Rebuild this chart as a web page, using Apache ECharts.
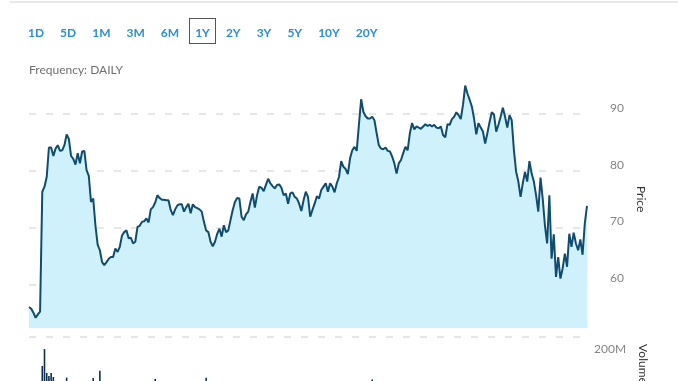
<!DOCTYPE html>
<html><head><meta charset="utf-8">
<script src="https://cdn.jsdelivr.net/npm/echarts@6/dist/echarts.min.js"></script>
<style>
html,body{margin:0;padding:0;background:#fff;width:678px;height:381px;overflow:hidden;font-family:Lato,"Open Sans",sans-serif;}
#chart{position:absolute;left:0;top:0;width:678px;height:381px;}
#topline{position:absolute;left:10px;top:1px;width:668px;height:2px;background:#e8e8e8;}
#ranges{position:absolute;left:28px;top:25px;display:flex;gap:16px;font-size:12px;font-weight:700;color:#2a8fd6;line-height:16px;}
#ranges span{position:relative;}
#ranges span.sel::after{content:'';position:absolute;left:-6px;right:-6px;top:-7px;bottom:-3px;border:1.5px solid #555;}
#freq{position:absolute;left:29px;top:62px;font-size:12px;color:#707070;line-height:16px;}
</style></head>
<body>
<div id="chart"></div>
<div id="topline"></div>
<div id="ranges"></div>
<div id="freq"></div>
<script>
// ---- data ----
const rangeLabels = ['1D','5D','1M','3M','6M','1Y','2Y','3Y','5Y','10Y','20Y'];
const selectedRange = '1Y';
const frequencyText = 'Frequency: DAILY';

const prices = [
 56.0,55.7,55.0,54.1,54.7,55.2,76.3,77.2,78.9,84.1,84.1,82.6,83.9,84.5,83.5,83.6,84.5,86.4,85.6,82.6,82.1,81.1,83.1,81.3,83.4,83.5,80.1,79.1,74.5,75.1,70.4,67.0,66.0,63.9,63.4,63.9,64.5,64.8,64.8,66.3,65.7,66.6,68.6,
 69.2,69.5,68.1,68.2,67.2,67.5,70.1,70.3,71.0,71.1,71.6,70.9,73.2,73.6,74.4,75.7,75.2,74.9,74.9,74.8,74.8,73.1,72.2,73.2,73.9,74.1,74.1,72.8,73.6,74.2,72.5,74.1,73.6,73.4,73.2,72.8,71.0,69.5,69.2,67.5,66.7,67.5,68.9,69.8,
 68.4,70.4,69.2,69.5,71.3,73.1,74.5,75.2,75.1,71.9,71.3,72.3,72.8,74.5,76.0,73.5,75.7,77.2,77.0,76.4,77.5,78.6,77.8,77.3,76.9,77.5,77.6,77.0,75.7,76.0,74.2,76.0,76.2,75.4,75.1,74.2,72.9,74.8,76.3,75.4,71.9,73.1,74.2,
 75.5,75.1,76.6,77.2,77.8,76.3,77.8,77.2,76.2,77.8,78.9,81.7,80.7,80.3,79.4,82.2,83.6,84.2,83.5,88.1,92.6,90.4,89.6,89.2,89.2,89.5,88.9,86.6,84.5,83.9,83.8,84.1,83.5,83.4,82.5,81.3,79.5,81.3,81.9,83.1,84.2,83.6,86.6,
 88.4,87.3,87.8,87.6,87.4,87.8,88.2,87.9,88.1,87.8,88.1,87.6,87.5,87.8,86.3,85.9,88.2,88.1,89.1,89.5,90.3,89.8,89.1,91.6,95.0,93.6,92.5,91.3,89.2,86.4,88.4,87.6,86.9,84.8,86.6,88.6,90.3,89.9,86.9,88.1,89.5,91.1,
 89.5,87.6,89.8,88.9,83.6,79.8,78.1,75.4,77.8,79.8,78.1,81.7,79.5,78.1,75.7,72.8,78.8,75.1,70.4,67.2,75.7,64.5,68.8,61.3,64.8,61.0,62.8,65.4,63.1,68.9,66.6,69.1,67.2,66.0,67.9,65.2,70.7,73.8
];
// volume in millions: [day index, volume]; only the days whose bars reach into view
const volumes = [
 [6,139],[7,233],[8,100],[9,83],[10,100],[11,78],[17,74],[29,72],[32,113],[57,67],[80,74],[155,64]
];
const priceTicks = [60,70,80,90];
const volumeTickLabel = 200;

// ---- header ----
const rangesEl = document.getElementById('ranges');
rangeLabels.forEach(l => {
  const s = document.createElement('span');
  s.textContent = l;
  if (l === selectedRange) s.className = 'sel';
  rangesEl.appendChild(s);
});
document.getElementById('freq').textContent = frequencyText;

// ---- chart ----
const days = prices.map((_, i) => i);
const chart = echarts.init(document.getElementById('chart'), null, {renderer:'canvas'});
const gridColor = '#e0e0e0';
chart.setOption({
  animation:false,
  grid:[
    {left:29, right:91, top:57.2, height:283.9, outerBoundsMode:'none', containLabel:false},
    {left:29, right:91, top:337, height:54, outerBoundsMode:'none', containLabel:false}
  ],
  xAxis:[
    {type:'category', gridIndex:0, data:days, boundaryGap:false, show:false},
    {type:'category', gridIndex:1, data:days, boundaryGap:false, show:false}
  ],
  yAxis:[
    {type:'value', gridIndex:0, position:'right', min:50, max:100, interval:10,
     axisLine:{show:false}, axisTick:{show:false},
     axisLabel:{color:'#858585', fontSize:12, margin:23, verticalAlign:'bottom', fontFamily:'Lato',
       formatter: v => priceTicks.includes(v) ? String(v) : ''},
     splitLine:{lineStyle:{color:['transparent',gridColor,gridColor,gridColor,gridColor,'transparent'], type:[7,10], width:1.5}},
     name:'Price', nameLocation:'middle', nameRotate:-90, nameGap:45,
     nameTextStyle:{color:'#333', fontSize:12, fontFamily:'Lato'}},
    {type:'value', gridIndex:1, position:'right', min:0, max:300, interval:100,
     axisLine:{show:false}, axisTick:{show:false},
     axisLabel:{color:'#858585', fontSize:12, margin:7, verticalAlign:'bottom', fontFamily:'Lato',
       formatter: v => v === volumeTickLabel ? v + 'M' : ''},
     splitLine:{lineStyle:{color:['transparent','transparent','transparent',gridColor], type:[7,10], width:1.5}},
     name:'Volume', nameLocation:'middle', nameRotate:-90, nameGap:45,
     nameTextStyle:{color:'#333', fontSize:12, fontFamily:'Lato'}}
  ],
  series:[
    {type:'line', xAxisIndex:0, yAxisIndex:0, data:prices, symbol:'none',
     lineStyle:{color:'#0e4d71', width:2}, areaStyle:{color:'#cff1fc', opacity:1, origin:52.3}},
    {type:'bar', xAxisIndex:1, yAxisIndex:1, data:volumes, barWidth:1.6,
     itemStyle:{color:'#0d2f4f'}}
  ]
});
</script>
</body></html>
